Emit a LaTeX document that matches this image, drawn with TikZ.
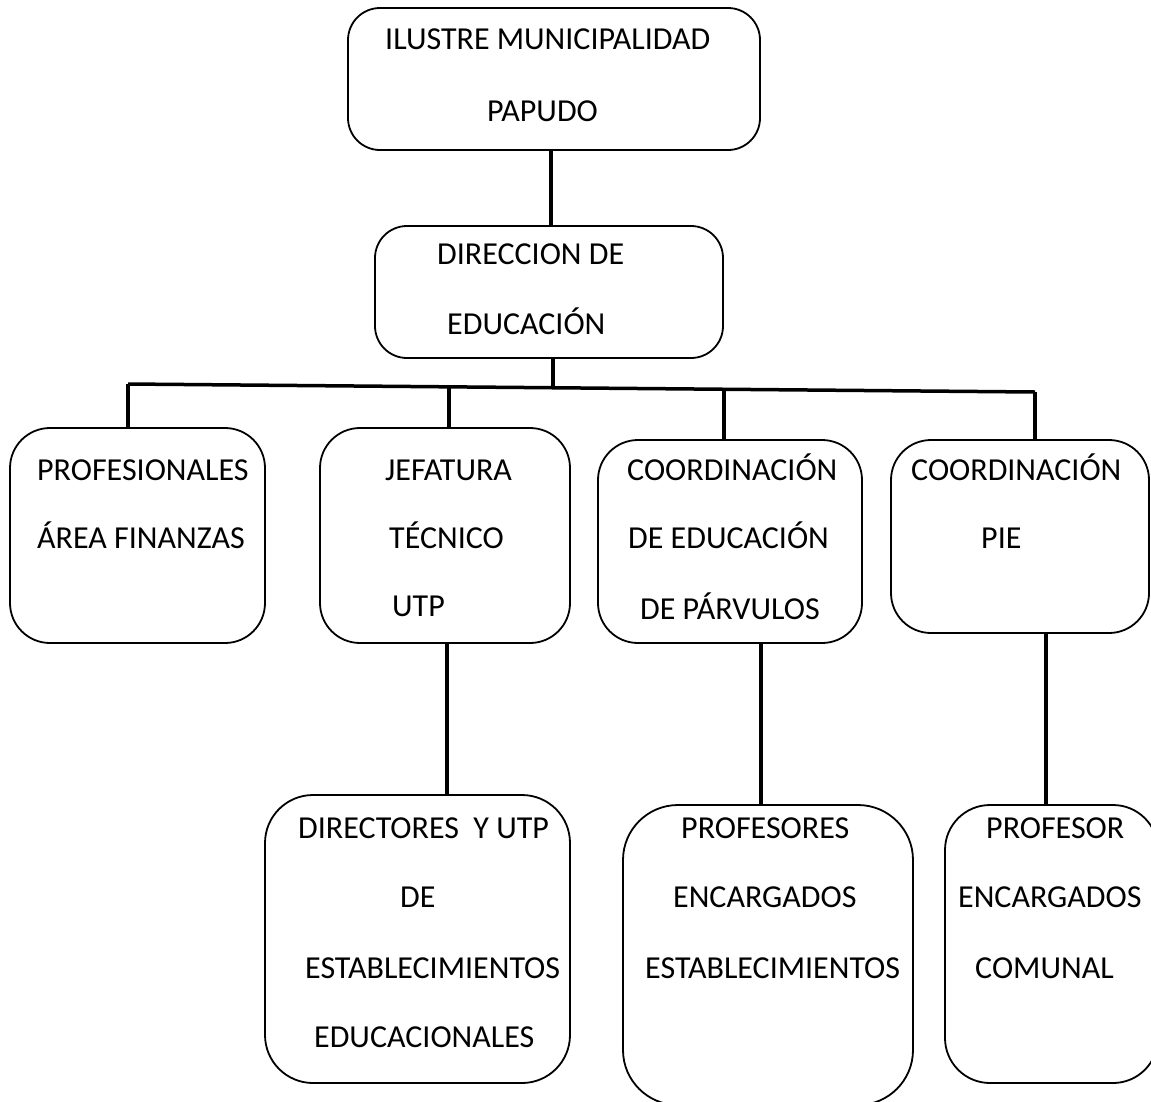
\documentclass[tikz,border=0pt]{standalone}
\usepackage{fontspec}
\setmainfont{Carlito}
\begin{document}
\begin{tikzpicture}[x=1pt,y=-1pt,
  box/.style={draw,line width=1.8pt,rounded corners=#1,inner sep=0pt},
  box/.default=32pt,
  lbl/.style={anchor=base west,inner sep=0pt,font=\fontsize{32}{38}\selectfont},
  link/.style={line width=3.5pt}]
\useasboundingbox[fill=white] (0,0) rectangle (1151,1101);
% boxes
\node[box,minimum width=412pt,minimum height=142pt] (top) at (554,79) {};
\node[box,minimum width=348pt,minimum height=132pt] (dir) at (549,292) {};
\node[box=40pt,minimum width=255pt,minimum height=215pt] (prof) at (137.5,535.5) {};
\node[box=40pt,minimum width=250pt,minimum height=215pt] (jef) at (445,535.5) {};
\node[box=40pt,minimum width=264pt,minimum height=203pt] (coord) at (730,541.5) {};
\node[box=40pt,minimum width=258pt,minimum height=193pt] (pie) at (1020,536.5) {};
\node[box=48pt,minimum width=305pt,minimum height=288pt] (dirs) at (417.5,939) {};
\node[box=55pt,minimum width=290pt,minimum height=300pt] (profs) at (768,955) {};
\node[box=45pt,minimum width=213pt,minimum height=278pt] (profr) at (1051.5,944) {};
% texts
\node[lbl] (t1) at (385,49) {ILUSTRE MUNICIPALIDAD};
\node[lbl] (t2) at (487,121) {PAPUDO};
\node[lbl] (t3) at (437,264) {DIRECCION DE};
\node[lbl] (t4) at (447,334) {EDUCACIÓN};
\node[lbl] (t5) at (37,480) {PROFESIONALES};
\node[lbl] (t6) at (37,548) {ÁREA FINANZAS};
\node[lbl] (t7) at (385,480) {JEFATURA};
\node[lbl] (t8) at (389,548) {TÉCNICO};
\node[lbl] (t9) at (392,616) {UTP};
\node[lbl] (t10) at (627,480) {COORDINACIÓN};
\node[lbl] (t11) at (628,548) {DE EDUCACIÓN};
\node[lbl] (t12) at (640,619) {DE PÁRVULOS};
\node[lbl] (t13) at (911,480) {COORDINACIÓN};
\node[lbl] (t14) at (981,548) {PIE};
\node[lbl] (t15) at (298,838) {DIRECTORES\ \ Y UTP};
\node[lbl] (t16) at (400,907) {DE};
\node[lbl] (t17) at (305,978) {ESTABLECIMIENTOS};
\node[lbl] (t18) at (314,1047) {EDUCACIONALES};
\node[lbl] (t19) at (681,838) {PROFESORES};
\node[lbl] (t20) at (673,907) {ENCARGADOS};
\node[lbl] (t21) at (645,978) {ESTABLECIMIENTOS};
\node[lbl] (t22) at (986,838) {PROFESOR};
\node[lbl] (t23) at (958,907) {ENCARGADOS};
\node[lbl] (t24) at (975,978) {COMUNAL};
% bus coordinates
\coordinate (bL) at (128,384);
\coordinate (bR) at (1035,392);
\coordinate (bD) at (553,387);
\coordinate (bJ) at (449,386);
\coordinate (bC) at (724,390);
% connectors
\draw[link] (top.south -| 551,0) -- (dir.north -| 551,0);
\draw[link] (dir.south -| bD) -- (bD);
\draw[link] (bL) -- (bR);
\draw[link] (bL) -- (prof.north -| bL);
\draw[link] (bJ) -- (jef.north -| bJ);
\draw[link] (bC) -- (coord.north -| bC);
\draw[link] (bR) -- (pie.north -| bR);
\draw[link] (jef.south -| 447,0) -- (dirs.north -| 447,0);
\draw[link] (coord.south -| 761,0) -- (profs.north -| 761,0);
\draw[link] (pie.south -| 1046,0) -- (profr.north -| 1046,0);
\end{tikzpicture}
\end{document}
